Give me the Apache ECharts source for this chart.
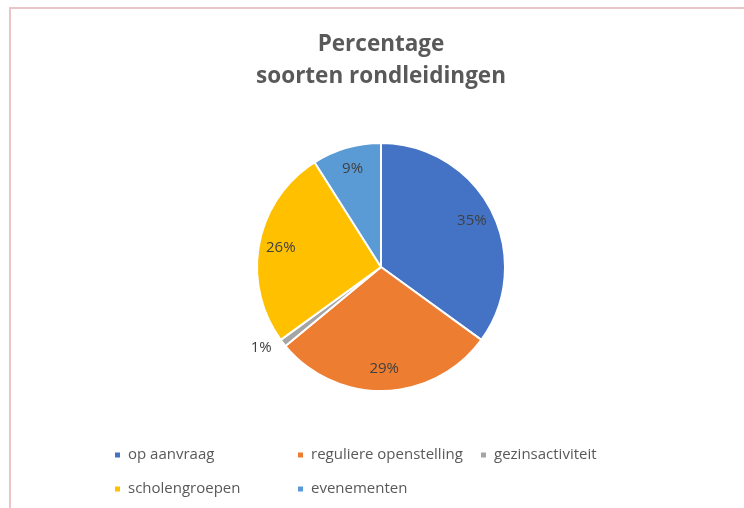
<!DOCTYPE html>
<html>
<head>
<meta charset="utf-8">
<script src="https://cdn.jsdelivr.net/npm/echarts@6/dist/echarts.min.js"></script>
<style>
  html, body { margin: 0; padding: 0; background: #fff; }
  #chart { width: 744px; height: 508px; }
</style>
</head>
<body>
<div id="chart"></div>
<script>
const categories = ["op aanvraag", "reguliere openstelling", "gezinsactiviteit", "scholengroepen", "evenementen"];
const shares = [35, 29, 1, 26, 9];
const colors = ["#4472C4", "#ED7D31", "#A5A5A5", "#FFC000", "#5B9BD5"];

const font = "'Open Sans', sans-serif";
const pieData = categories.map((name, i) => ({
  name,
  value: shares[i],
  itemStyle: { color: colors[i] },
}));

// second, transparent ring only to put labels near the rim like Excel does
const labelData = categories.map((name, i) => {
  const item = { name, value: shares[i] };
  if (shares[i] < 3) {
    item.label = { position: "outside" };
  }
  return item;
});

const chart = echarts.init(document.getElementById("chart"));
chart.setOption({
  animation: false,
  title: {
    text: "Percentage\nsoorten rondleidingen",
    left: 381,
    textAlign: "center",
    top: 29,
    padding: 0,
    textStyle: { fontFamily: font, fontSize: 22.5, fontWeight: "bold", color: "#595959", lineHeight: 32 },
  },
  legend: {
    left: 113,
    top: 442,
    width: 545,
    padding: 0,
    itemWidth: 7,
    itemHeight: 7,
    itemGap: 8,
    icon: "rect",
    data: categories,
    textStyle: {
      fontFamily: font,
      fontSize: 15,
      color: "#595959",
      width: 160,
      lineHeight: 26,
      padding: [0, 0, 0, 2],
    },
  },
  graphic: [
    {
      type: "rect",
      silent: true,
      shape: { x: 10, y: 8, width: 800, height: 600 },
      style: { fill: "none", stroke: "#ebc6c6", lineWidth: 2 },
    },
  ],
  series: [
    {
      type: "pie",
      center: [381, 267],
      radius: [0, 124],
      startAngle: 90,
      clockwise: true,
      label: { show: false },
      labelLine: { show: false },
      itemStyle: { borderColor: "#fff", borderWidth: 2 },
      data: pieData,
    },
    {
      type: "pie",
      silent: true,
      center: [381, 267],
      radius: [74, 124],
      startAngle: 90,
      clockwise: true,
      itemStyle: { color: "rgba(0,0,0,0)" },
      label: {
        show: true,
        position: "inside",
        fontFamily: font,
        fontSize: 15,
        color: "#404040",
        formatter: (p) => Math.round(p.value) + "%",
      },
      labelLine: { show: false, length: 8, length2: 0 },
      data: labelData,
    },
  ],
});
</script>
</body>
</html>
